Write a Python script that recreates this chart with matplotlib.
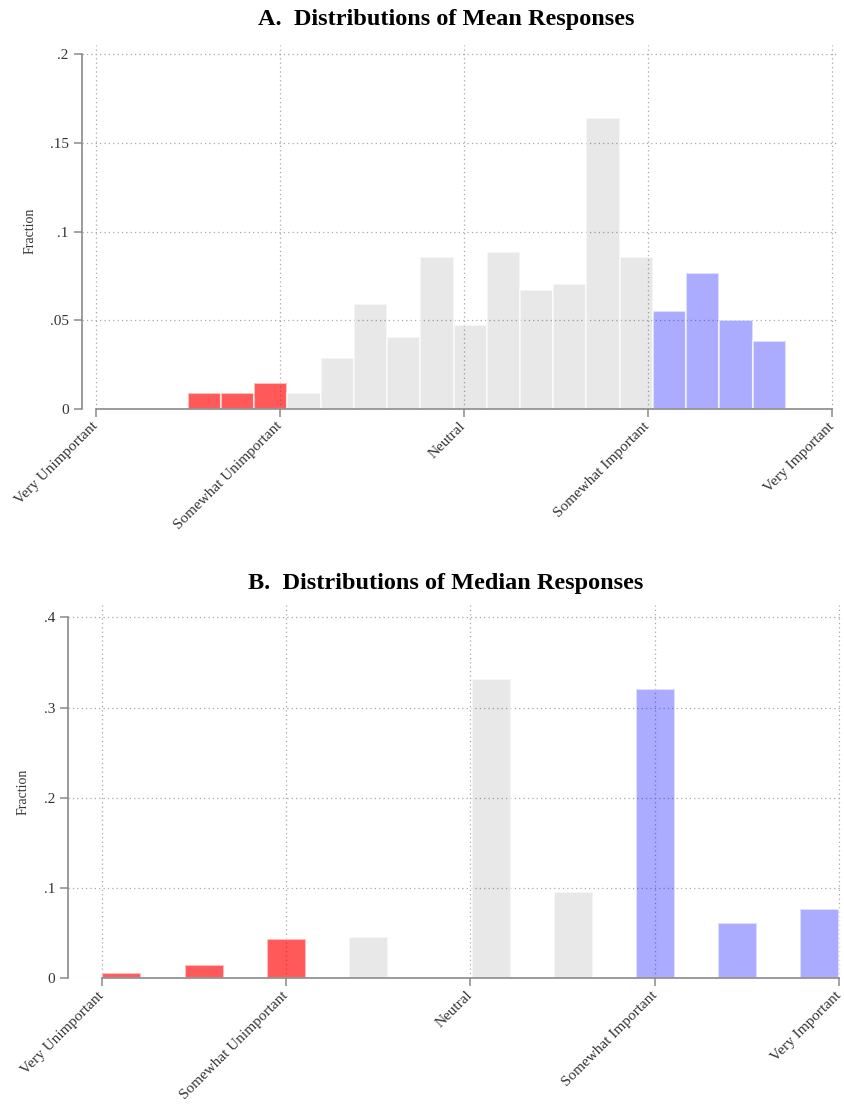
import numpy as np
import matplotlib
matplotlib.use('Agg')
import matplotlib.pyplot as plt

plt.rcParams['font.family'] = ['Liberation Serif', 'DejaVu Serif']

# Scale labels (response values 1..5)
scale_pos = [1, 2, 3, 4, 5]
scale_labels = ['Very Unimportant', 'Somewhat Unimportant', 'Neutral',
                'Somewhat Important', 'Very Important']

# Panel A: histogram of mean responses (18 bins from 1.5 to 4.75)
mean_start = 1.5
mean_width = 3.25 / 18
mean_frac = [0.0088, 0.0088, 0.0145, 0.0088, 0.0289, 0.0590, 0.0407, 0.0856,
             0.0471, 0.0882, 0.0672, 0.0702, 0.1642, 0.0856, 0.0553, 0.0766,
             0.0501, 0.0383]
mean_group = ['u', 'u', 'u', 'n', 'n', 'n', 'n', 'n', 'n', 'n', 'n', 'n', 'n',
              'n', 'i', 'i', 'i', 'i']

# Panel B: distribution of median responses
median_x = [1.107, 1.559, 2.002, 2.448, 3.113, 3.557, 4.003, 4.447, 4.892]
median_frac = [0.0055, 0.0144, 0.0432, 0.0458, 0.3313, 0.0960, 0.3200, 0.0610, 0.0765]
median_group = ['u', 'u', 'u', 'n', 'n', 'n', 'i', 'i', 'i']
median_width = 0.213

colors = {'u': (1, 0, 0, 0.65), 'n': (0, 0, 0, 0.09), 'i': (0, 0, 1, 0.33)}
spine_col = '#8a8a8a'
grid_kw = dict(color='#a8a8a8', linestyle=(0, (1, 2.5)), linewidth=0.9)


def style_axis(ax, ymax, yticks, ylabels, xlim, ylim):
    ax.set_xlim(*xlim)
    ax.set_ylim(*ylim)
    for s in ['top', 'right']:
        ax.spines[s].set_visible(False)
    ax.spines['left'].set_bounds(0, ymax)
    ax.spines['bottom'].set_bounds(1, 5)
    for s in ['left', 'bottom']:
        ax.spines[s].set_color(spine_col)
        ax.spines[s].set_linewidth(1.2)
    ax.set_yticks(yticks)
    ax.set_yticklabels(ylabels, fontsize=11, color='#333333')
    ax.set_xticks(scale_pos)
    ax.set_xticklabels(scale_labels, rotation=45, ha='right', va='center',
                       rotation_mode='anchor', fontsize=11, color='#333333')
    ax.tick_params(axis='both', direction='out', length=6, color=spine_col, width=1.1)
    ax.tick_params(axis='x', pad=5)
    ax.grid(True, **grid_kw)
    ax.set_axisbelow(True)
    ax.set_ylabel('Fraction', fontsize=10, color='#333333')


fig = plt.figure(figsize=(8.44, 11.06), dpi=100)

# Panel A
axA = fig.add_axes([0.0972, 0.6302, 0.8957, 0.3291])
edges = mean_start + mean_width * np.arange(len(mean_frac))
axA.bar(edges, mean_frac, width=mean_width, align='edge',
        color=[colors[g] for g in mean_group],
        edgecolor=(1, 1, 1, 0.6), linewidth=1.5)
style_axis(axA, 0.2, [0, 0.05, 0.1, 0.15, 0.2], ['0', '.05', '.1', '.15', '.2'],
           (0.9255, 5.034), (0, 0.2051))
axA.yaxis.set_label_coords(-0.060, 0.49)

# Panel B
axB = fig.add_axes([0.0809, 0.1155, 0.9167, 0.3375])
axB.bar(median_x, median_frac, width=median_width,
        color=[colors[g] for g in median_group],
        edgecolor=(1, 1, 1, 0.6), linewidth=1.5)
style_axis(axB, 0.4, [0, 0.1, 0.2, 0.3, 0.4], ['0', '.1', '.2', '.3', '.4'],
           (0.8189, 5.0146), (0, 0.4136))
axB.yaxis.set_label_coords(-0.050, 0.5)

fig.text(446 / 844, 1 - 20 / 1106, 'A.  Distributions of Mean Responses',
         ha='center', va='center', fontsize=17.5, fontweight='bold')
fig.text(446 / 844, 1 - 583 / 1106, 'B.  Distributions of Median Responses',
         ha='center', va='center', fontsize=17.5, fontweight='bold')

fig.savefig('out.png', dpi=100)
